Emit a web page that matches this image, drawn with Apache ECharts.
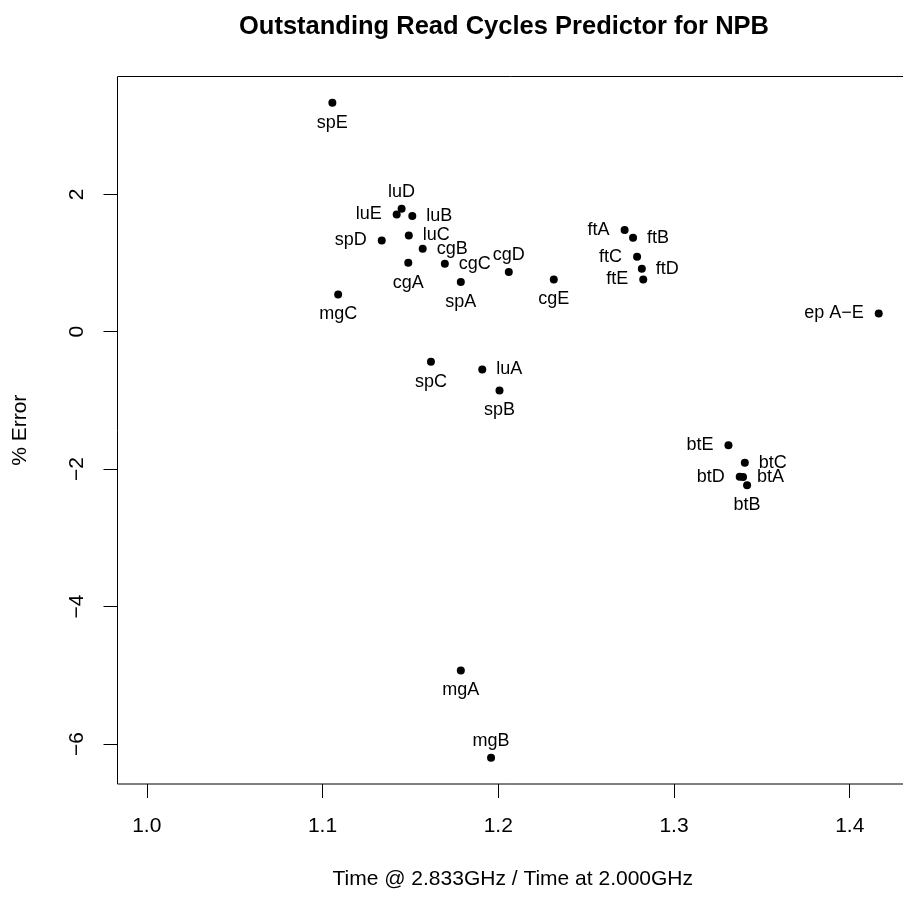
<!DOCTYPE html>
<html>
<head>
<meta charset="utf-8">
<script src="https://cdn.jsdelivr.net/npm/echarts@6/dist/echarts.min.js"></script>
<style>
  html, body { margin: 0; padding: 0; background: #fff; }
  #chart { width: 903px; height: 898px; }
</style>
</head>
<body>
<div id="chart"></div>
<script>
// Benchmark runs (NPB kernels, classes A-E)
const names = [
  'spE', 'luD', 'luE', 'luB', 'luC', 'spD', 'cgB', 'cgA', 'cgC', 'cgD',
  'spA', 'cgE', 'mgC', 'spC', 'luA', 'spB', 'ftA', 'ftB', 'ftC', 'ftD',
  'ftE', 'ep A\u2212E', 'btE', 'btC', 'btD', 'btA', 'btB', 'mgA', 'mgB'
];
// Time @ 2.833GHz / Time at 2.000GHz
const timeRatio = [
  1.1056, 1.1450, 1.1422, 1.1511, 1.1491, 1.1337, 1.1570, 1.1488, 1.1696, 1.2060,
  1.1787, 1.2316, 1.1089, 1.1617, 1.1909, 1.2007, 1.2719, 1.2767, 1.2790, 1.2817,
  1.2825, 1.4165, 1.3310, 1.3403, 1.3374, 1.3393, 1.3416, 1.1787, 1.1959
];
// % Error of the predictor
const pctError = [
  3.333, 1.790, 1.707, 1.683, 1.402, 1.329, 1.208, 1.004, 0.990, 0.868,
  0.722, 0.761, 0.543, -0.437, -0.549, -0.854, 1.479, 1.368, 1.092, 0.917,
  0.761, 0.266, -1.651, -1.907, -2.111, -2.116, -2.233, -4.930, -6.201
];
const xTicks = [1.0, 1.1, 1.2, 1.3, 1.4];
const yTicks = [-6, -4, -2, 0, 2];

// where each point's name sits relative to its dot
const labelSide = {
  spE: 'bottom', luD: 'top', luE: 'left', luB: 'right', luC: 'right', spD: 'left',
  cgB: 'right', cgA: 'bottom', cgC: 'right', cgD: 'top', spA: 'bottom', cgE: 'bottom',
  mgC: 'bottom', spC: 'bottom', luA: 'right', spB: 'bottom', ftA: 'left', ftB: 'right',
  ftC: 'left', ftD: 'right', ftE: 'left', 'ep A\u2212E': 'left', btE: 'left', btC: 'right',
  btD: 'left', btA: 'right', btB: 'bottom', mgA: 'bottom', mgB: 'top'
};
const sideDistance = { left: 11, right: 10, bottom: 7, top: 4 };

// R-style axis padding: 4% beyond the data range (x starts from 1)
const xLo = 1.0, xHi = Math.max(...timeRatio);
const yLo = Math.min(...pctError), yHi = Math.max(...pctError);
const xPad = (xHi - xLo) * 0.04, yPad = (yHi - yLo) * 0.04;

const FONT = '"Liberation Sans", Arial, Helvetica, sans-serif';
const AXIS_FS = 21;
const minus = v => String(v).replace('-', '\u2212');

const points = names.map((n, i) => ({
  value: [timeRatio[i], pctError[i]],
  name: n,
  label: { position: labelSide[n], distance: sideDistance[labelSide[n]] }
}));

const chart = echarts.init(document.getElementById('chart'), null, { renderer: 'canvas' });
chart.setOption({
  backgroundColor: '#ffffff',
  animation: false,
  textStyle: { fontFamily: FONT },
  title: {
    text: 'Outstanding Read Cycles Predictor for NPB',
    left: 499, top: 9, textAlign: 'center',
    textStyle: { fontFamily: FONT, fontWeight: 'bold', fontSize: 25.5, color: '#000' }
  },
  grid: {
    left: 117.5, top: 76.5, width: 790.5, height: 707.5,
    outerBoundsMode: 'none', containLabel: false,
    show: true, borderColor: '#000', borderWidth: 1, backgroundColor: 'transparent'
  },
  xAxis: {
    type: 'value',
    min: xLo - xPad, max: xHi + xPad,
    name: 'Time @ 2.833GHz / Time at 2.000GHz',
    nameLocation: 'middle', nameGap: 85,
    nameTextStyle: { fontFamily: FONT, fontSize: AXIS_FS, color: '#000' },
    axisLine: { show: false, onZero: false },
    splitLine: { show: false },
    axisTick: { show: true, inside: false, length: 14, customValues: xTicks,
                lineStyle: { color: '#000', width: 1 } },
    axisLabel: { show: true, margin: 32, customValues: xTicks, fontSize: AXIS_FS, color: '#000',
                 fontFamily: FONT, formatter: v => v.toFixed(1) }
  },
  yAxis: {
    type: 'value',
    min: yLo - yPad, max: yHi + yPad,
    name: '% Error',
    nameLocation: 'middle', nameGap: 87, nameRotate: 90,
    nameTextStyle: { fontFamily: FONT, fontSize: AXIS_FS, color: '#000' },
    axisLine: { show: false, onZero: false },
    splitLine: { show: false },
    axisTick: { show: true, inside: false, length: 14, customValues: yTicks,
                lineStyle: { color: '#000', width: 1 } },
    axisLabel: { show: true, margin: 30, rotate: 90, customValues: yTicks, fontSize: AXIS_FS,
                 color: '#000', fontFamily: FONT, formatter: v => minus(v) }
  },
  series: [{
    type: 'scatter',
    data: points,
    symbol: 'circle',
    symbolSize: 8,
    itemStyle: { color: '#000', opacity: 1 },
    label: {
      show: true, formatter: p => p.name,
      fontFamily: FONT, fontSize: 18, color: '#000'
    },
    emphasis: { disabled: true }
  }]
});
</script>
</body>
</html>
